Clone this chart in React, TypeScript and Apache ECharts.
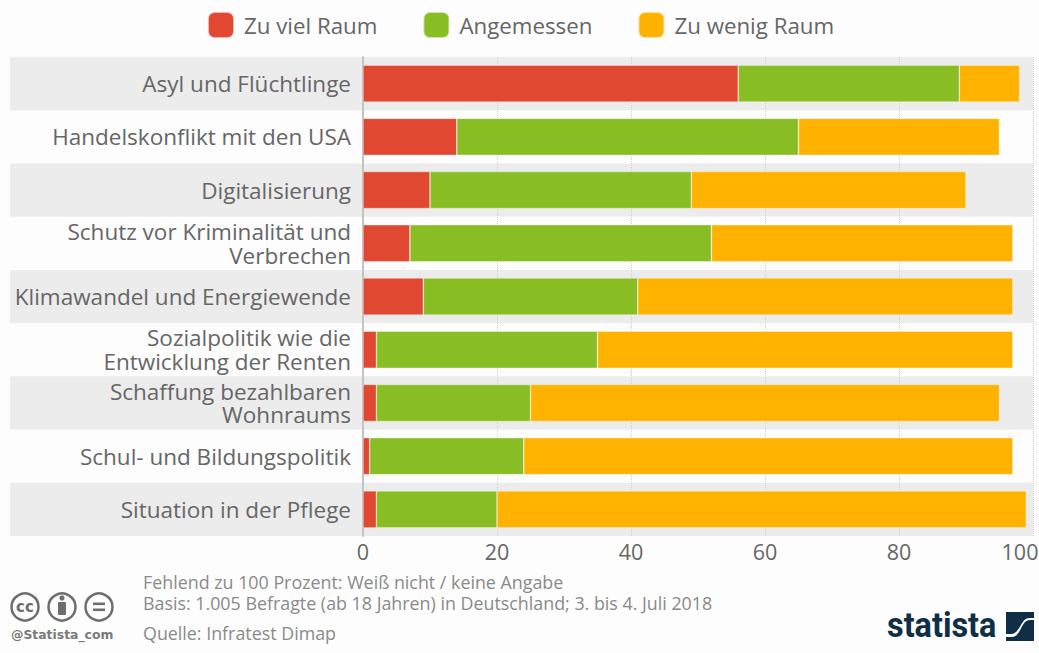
import React, { useEffect, useRef } from "react";
import * as echarts from "echarts";

const categories = [
  "Asyl und Flüchtlinge",
  "Handelskonflikt mit den USA",
  "Digitalisierung",
  "Schutz vor Kriminalität und\nVerbrechen",
  "Klimawandel und Energiewende",
  "Sozialpolitik wie die\nEntwicklung der Renten",
  "Schaffung bezahlbaren\nWohnraums",
  "Schul- und Bildungspolitik",
  "Situation in der Pflege",
];
const zuViel = [56, 14, 10, 7, 9, 2, 2, 1, 2];
const angemessen = [33, 51, 39, 45, 32, 33, 23, 23, 18];
const zuWenig = [9, 30, 41, 45, 56, 62, 70, 73, 79];
const footnotes = [
  "Fehlend zu 100 Prozent: Weiß nicht / keine Angabe",
  "Basis: 1.005 Befragte (ab 18 Jahren) in Deutschland; 3. bis 4. Juli 2018",
  "Quelle: Infratest Dimap",
];

const FONT = "'Open Sans', sans-serif";
const DARK = "#0f2f47";

echarts.graphic.registerShape(
  "stTop",
  echarts.graphic.extendPath("M0 0H28V6H23C15 6 14 22 5 22H0Z", {})
);
echarts.graphic.registerShape(
  "stBottom",
  echarts.graphic.extendPath("M28 8V29H0V25H6C15 25 15 8 24 8Z", {})
);

export default function App() {
  const ref = useRef<HTMLDivElement>(null);
  useEffect(() => {
    document.body.style.margin = "0";
    document.body.style.background = "#fdfdfd";
    const chart = echarts.init(ref.current!, undefined, { renderer: "svg" });
    const bar = (name: string, data: number[], color: string) => ({
      name,
      type: "bar",
      stack: "a",
      data,
      barWidth: 37,
      xAxisIndex: 0,
      yAxisIndex: 0,
      itemStyle: { color, borderColor: "rgba(255,255,255,0.6)", borderWidth: 0.6 },
    });
    const gray = "#6e6e6e";
    chart.setOption({
      animation: false,
      backgroundColor: "#fdfdfd",
      textStyle: { fontFamily: FONT },
      legend: {
        top: 6,
        left: 202,
        itemWidth: 26,
        itemHeight: 26,
        itemGap: 45,
        icon: "roundRect",
        selectedMode: false,
        textStyle: { fontSize: 22.3, color: "#666", fontFamily: FONT, padding: [0, 0, 0, 5] },
        data: ["Zu viel Raum", "Angemessen", "Zu wenig Raum"],
      },
      grid: [
        { left: 363, top: 57, width: 670, height: 479, outerBoundsMode: "none" },
        { left: 10, top: 57, width: 1023, height: 479, outerBoundsMode: "none" },
      ],
      xAxis: [
        {
          gridIndex: 0,
          type: "value",
          min: 0,
          max: 100,
          interval: 20,
          axisLine: { show: false },
          axisTick: { show: false },
          axisLabel: {
            fontSize: 21.5,
            color: "#666",
            margin: 4,
            fontFamily: FONT,
            formatter: (v: number) => (v === 100 ? "{m|100}" : String(v)),
            rich: {
              m: { fontSize: 21.5, color: "#666", fontFamily: FONT, padding: [0, 26, 0, 0] },
            },
          },
          splitLine: { show: true, lineStyle: { color: "#cfcfcf", type: "dotted", width: 1 } },
        },
        {
          gridIndex: 1,
          type: "value",
          min: 0,
          max: 1,
          axisLine: { show: false },
          axisTick: { show: false },
          axisLabel: { show: false },
          splitLine: { show: false },
        },
      ],
      yAxis: [
        {
          gridIndex: 0,
          type: "category",
          inverse: true,
          data: categories,
          axisLine: { show: true, lineStyle: { color: "#c4c4c4", width: 2 } },
          axisTick: { show: false },
          axisLabel: {
            fontSize: 22.5,
            lineHeight: 23.5,
            color: "#666",
            margin: 12,
            align: "right",
            fontFamily: FONT,
          },
        },
        {
          gridIndex: 1,
          type: "category",
          inverse: true,
          data: categories,
          axisLine: { show: false },
          axisTick: { show: false },
          axisLabel: { show: false },
          splitArea: { show: true, areaStyle: { color: ["#ececec", "rgba(0,0,0,0)"] } },
        },
      ],
      series: [
        bar("Zu viel Raum", zuViel, "#e14832"),
        bar("Angemessen", angemessen, "#88bd23"),
        bar("Zu wenig Raum", zuWenig, "#ffb300"),
      ],
      graphic: [
        ...footnotes.map((t, i) => ({
          type: "text",
          x: 143,
          y: [573, 594, 624][i],
          style: { text: t, fontSize: 17.85, fill: "#8a8a8a", fontFamily: FONT },
        })),
        ...[25, 62, 99].map((cx) => ({
          type: "circle",
          shape: { cx, cy: 607, r: 13.5 },
          style: { fill: "none", stroke: gray, lineWidth: 2.5 },
        })),
        {
          type: "text",
          x: 25,
          y: 607,
          style: {
            text: "cc",
            fontSize: 15,
            fontWeight: "bold",
            fill: gray,
            align: "center",
            verticalAlign: "middle",
            fontFamily: "'DejaVu Sans'",
          },
        },
        { type: "circle", shape: { cx: 62, cy: 598, r: 2.6 }, style: { fill: gray } },
        { type: "rect", shape: { x: 58, y: 602, width: 8, height: 13, r: 1 }, style: { fill: gray } },
        { type: "rect", shape: { x: 93, y: 602.5, width: 12, height: 2.6 }, style: { fill: gray } },
        { type: "rect", shape: { x: 93, y: 608.5, width: 12, height: 2.6 }, style: { fill: gray } },
        {
          type: "text",
          x: 11,
          y: 628,
          style: {
            text: "@Statista_com",
            fontSize: 12.4,
            fontWeight: "bold",
            fill: "#7a7a7a",
            fontFamily: "'DejaVu Sans'",
          },
        },
        {
          type: "text",
          x: 887,
          y: 606,
          scaleX: 0.9,
          style: {
            text: "statista",
            fontSize: 36,
            fontWeight: "bold",
            fill: DARK,
            fontFamily: "Roboto",
          },
        },
        { type: "stTop", x: 1006, y: 612, style: { fill: DARK } },
        { type: "stBottom", x: 1006, y: 612, style: { fill: DARK } },
      ],
    });
    return () => chart.dispose();
  }, []);
  return (
    <div
      ref={ref}
      style={{ position: "fixed", left: 0, top: 0, width: 1039, height: 653 }}
    />
  );
}
